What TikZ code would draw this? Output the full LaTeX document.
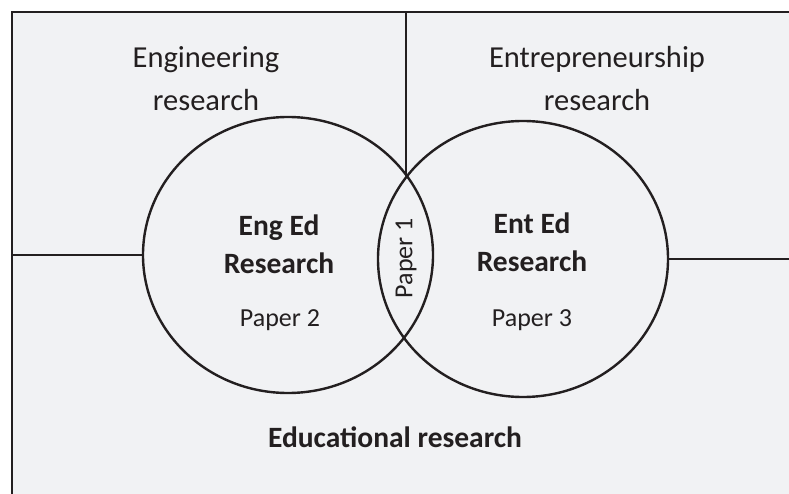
\documentclass[tikz,border=0pt]{standalone}
\usepackage{fontspec}
\setmainfont{Carlito}
\usetikzlibrary{shapes.geometric}
\definecolor{bg}{HTML}{F1F2F4}
\definecolor{ink}{HTML}{231F20}
\tikzset{
  ring/.style={draw=ink, line width=2.4pt, ellipse, minimum width=290pt, minimum height=276pt, inner sep=0pt},
  rule/.style={draw=ink, line width=2.4pt},
  plain/.style={text=ink, font=\fontsize{26}{44}\selectfont, align=center, inner sep=0pt},
  label/.style={text=ink, font=\fontsize{30.5}{43}\selectfont, align=center, inner sep=0pt},
  heavy/.style={text=ink, font=\fontsize{29.5}{38}\selectfont\bfseries, align=center, inner sep=0pt}
}
\begin{document}
\begin{tikzpicture}[x=1pt,y=-1pt]
\useasboundingbox (0,0) rectangle (789,494);
\fill[bg] (12,12) rectangle (789,494);
\draw[rule] (12,494) -- (12,12) -- (789,12);
\node[ring] (L) at (288,255) {};
\node[ring] (R) at (523,259) {};
\coordinate (top) at (406,12);
\coordinate (cross) at (406,174);
\coordinate (lend) at (12,255);
\coordinate (rend) at (789,259);
\draw[rule] (top) -- (cross);
\draw[rule] (lend) -- (L.west);
\draw[rule] (R.east) -- (rend);
\node[label] (eng) at (206,79) {Engineering\\research};
\node[label] (ent) at (597,79) {Entrepreneurship\\research};
\node[heavy] (engEd) at (279,244) {Eng Ed\\Research};
\node[heavy] (entEd) at (532,242) {Ent Ed\\Research};
\node[plain] (p2) at (280,320) {Paper 2};
\node[plain] (p3) at (532,320) {Paper 3};
\node[plain, rotate=90] (p1) at (406,258) {Paper 1};
\node[heavy] (edu) at (395,437) {Educational research};
\end{tikzpicture}
\end{document}
